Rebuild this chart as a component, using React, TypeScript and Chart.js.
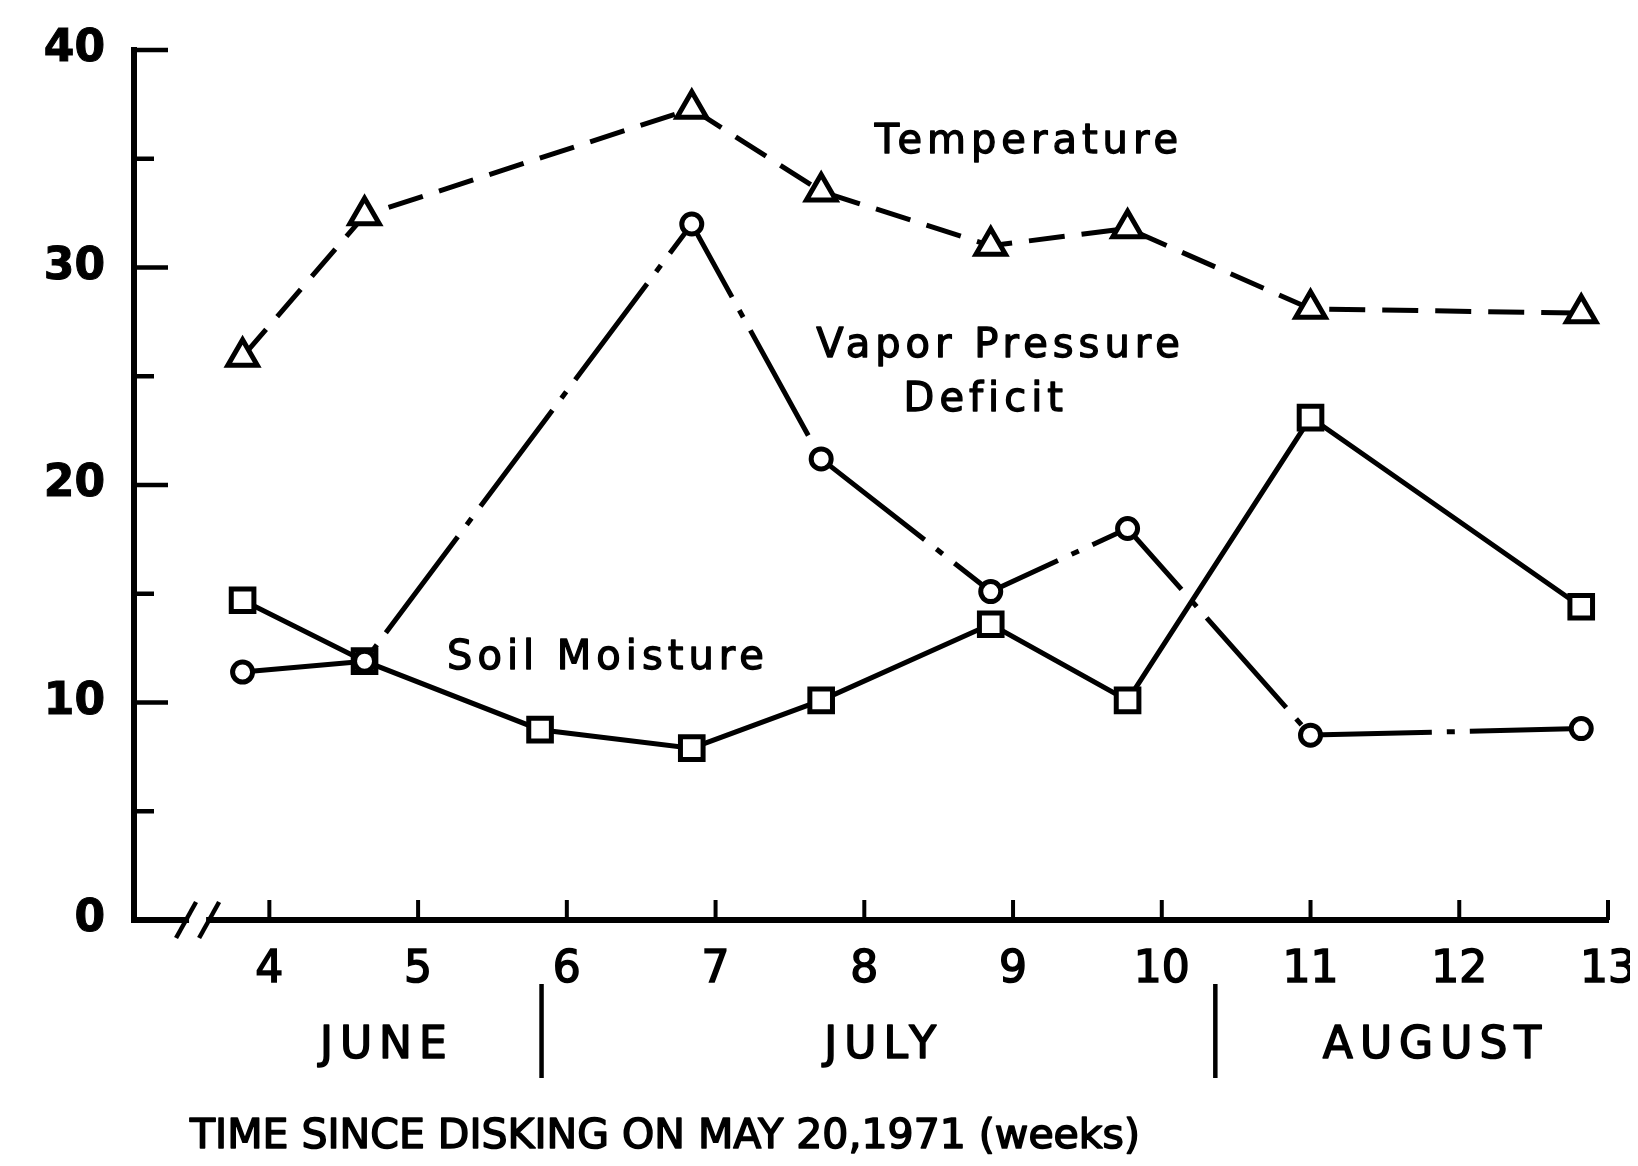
import React, { useEffect, useRef } from 'react';
import { Chart, registerables } from 'chart.js';

Chart.register(...registerables);

// ---- data (weeks since disking) ----
const weeks = [3.82, 4.64, 5.82, 6.84, 7.71, 8.85, 9.77, 11.0, 12.82];
const temperature = [25.9, 32.4, null, 37.3, 33.5, 31.0, 31.8, 28.1, 27.9];
const vaporPressureDeficit = [11.4, 11.9, null, 32.0, 21.2, 15.1, 18.0, 8.5, 8.8];
const soilMoisture = [14.7, 11.9, 8.75, 7.9, 10.1, 13.6, 10.1, 23.1, 14.4];

const xMin = 3.09;
const xMax = 13;
const xTickValues = [4, 5, 6, 7, 8, 9, 10, 11, 12, 13];
const yMin = 0;
const yMax = 40;
const yStep = 5;
const yLabelEvery = 10;

const monthNames = ['JUNE', 'JULY', 'AUGUST'];
const monthCenters = [4.77, 8.11, 11.82];
const monthDividers = [5.83, 10.36];
const axisBreak = [3.44, 3.595];

const seriesLabelText = ['Temperature', 'Vapor Pressure', 'Deficit', 'Soil Moisture'];
const seriesLabelX = [9.09, 8.9, 8.8, 6.26];
const seriesLabelY = [35.72, 26.35, 23.87, 12.0];

const axisTitle = 'TIME SINCE DISKING ON MAY 20,1971 (weeks)';
const axisTitleCenter = 6.66;

const FONT = '"DejaVu Sans", "Noto Sans", sans-serif';

function toPoints(vals: (number | null)[]) {
  const pts: { x: number; y: number }[] = [];
  weeks.forEach((w, i) => {
    const v = vals[i];
    if (v !== null && v !== undefined) pts.push({ x: w, y: v });
  });
  return pts;
}

function heavyText(ctx: CanvasRenderingContext2D, txt: string, x: number, y: number, sw: number) {
  ctx.lineWidth = sw;
  ctx.lineJoin = 'round';
  ctx.strokeText(txt, x, y);
  ctx.fillText(txt, x, y);
}

const decorPlugin = {
  id: 'decor',
  afterDraw(chart: any) {
    const { ctx, chartArea, scales } = chart;
    const xs = scales.x;
    const ys = scales.y;
    const left = chartArea.left;
    const bottom = chartArea.bottom;
    ctx.save();
    ctx.strokeStyle = '#000';
    ctx.fillStyle = '#000';
    ctx.lineCap = 'butt';

    // inward y ticks
    ctx.lineWidth = 4.5;
    ys.ticks.forEach((t: any) => {
      if (t.value === yMin) return;
      const py = ys.getPixelForValue(t.value);
      const len = t.value % yLabelEvery === 0 ? 34 : 20;
      ctx.beginPath();
      ctx.moveTo(left - 2, py);
      ctx.lineTo(left + len, py);
      ctx.stroke();
    });

    // inward x ticks
    ctx.lineWidth = 4;
    xs.ticks.forEach((t: any) => {
      const px = xs.getPixelForValue(t.value);
      ctx.beginPath();
      ctx.moveTo(px, bottom);
      ctx.lineTo(px, bottom - 20);
      ctx.stroke();
    });

    // axis break //
    const b0 = xs.getPixelForValue(axisBreak[0]);
    const b1 = xs.getPixelForValue(axisBreak[1]);
    ctx.fillStyle = '#fff';
    ctx.fillRect(b0 + 3, bottom - 5, b1 - b0 - 6, 10);
    ctx.fillStyle = '#000';
    ctx.lineWidth = 4.5;
    [b0, b1].forEach((bx) => {
      ctx.beginPath();
      ctx.moveTo(bx - 10, bottom + 18);
      ctx.lineTo(bx + 10, bottom - 18);
      ctx.stroke();
    });

    // month dividers
    ctx.lineWidth = 4.5;
    monthDividers.forEach((m) => {
      const px = xs.getPixelForValue(m);
      ctx.beginPath();
      ctx.moveTo(px, bottom + 64);
      ctx.lineTo(px, bottom + 158);
      ctx.stroke();
    });

    // month names
    ctx.textAlign = 'center';
    ctx.textBaseline = 'middle';
    ctx.font = `44px ${FONT}`;
    (ctx as any).letterSpacing = '7px';
    monthNames.forEach((name, i) => {
      heavyText(ctx, name, xs.getPixelForValue(monthCenters[i]) + 3, bottom + 127, 1.6);
    });

    // axis title
    ctx.font = `41px ${FONT}`;
    (ctx as any).letterSpacing = '0px';
    heavyText(ctx, axisTitle, xs.getPixelForValue(axisTitleCenter), bottom + 217, 1.6);

    // series labels
    ctx.font = `40px ${FONT}`;
    (ctx as any).letterSpacing = '5px';
    seriesLabelText.forEach((txt, i) => {
      heavyText(
        ctx,
        txt,
        xs.getPixelForValue(seriesLabelX[i]) + 2.5,
        ys.getPixelForValue(seriesLabelY[i]),
        1.3
      );
    });

    ctx.restore();
  },
};

export default function App() {
  const canvasRef = useRef<HTMLCanvasElement | null>(null);

  useEffect(() => {
    if (!canvasRef.current) return;
    const chart = new Chart(canvasRef.current, {
      type: 'line',
      data: {
        datasets: [
          {
            label: 'Temperature',
            data: toPoints(temperature),
            borderColor: '#000',
            borderWidth: 5,
            borderDash: [36, 17],
            pointStyle: 'triangle',
            pointRadius: 17,
            pointBorderWidth: 5,
            pointBorderColor: '#000',
            pointBackgroundColor: '#fff',
            tension: 0,
            fill: false,
          },
          {
            label: 'Vapor Pressure Deficit',
            data: toPoints(vaporPressureDeficit),
            borderColor: '#000',
            borderWidth: 5,
            borderDash: [120, 15, 8, 15],
            pointStyle: 'circle',
            pointRadius: 10,
            pointBorderWidth: 5,
            pointBorderColor: '#000',
            pointBackgroundColor: '#fff',
            tension: 0,
            fill: false,
          },
          {
            label: 'Soil Moisture',
            data: toPoints(soilMoisture),
            borderColor: '#000',
            borderWidth: 5,
            pointStyle: 'rect',
            pointRadius: 16,
            pointBorderWidth: 5,
            pointBorderColor: '#000',
            pointBackgroundColor: '#fff',
            tension: 0,
            fill: false,
          },
        ],
      },
      options: {
        responsive: false,
        animation: false,
        events: [],
        layout: { padding: { top: 42, right: 18, left: 0, bottom: 0 } },
        plugins: {
          legend: { display: false },
          tooltip: { enabled: false },
        },
        scales: {
          x: {
            type: 'linear',
            min: xMin,
            max: xMax,
            grid: { display: false, drawTicks: false },
            border: { display: true, color: '#000', width: 6 },
            ticks: {
              autoSkip: false,
              maxRotation: 0,
              minRotation: 0,
              padding: 24,
              color: '#000',
              textStrokeColor: '#000',
              textStrokeWidth: 1.6,
              font: { family: FONT, size: 44 },
              callback: (v: any) => String(v),
            },
            afterBuildTicks: (s: any) => {
              s.ticks = xTickValues.map((v) => ({ value: v }));
            },
            afterFit: (s: any) => {
              s.height = 238;
              s.paddingLeft = 0;
              s.paddingRight = 0;
            },
          },
          y: {
            type: 'linear',
            min: yMin,
            max: yMax,
            grid: { display: false, drawTicks: false },
            border: { display: true, color: '#000', width: 6 },
            ticks: {
              stepSize: yStep,
              autoSkip: false,
              padding: 29,
              color: '#000',
              textStrokeColor: '#000',
              textStrokeWidth: 1,
              font: { family: FONT, size: 44, weight: 'bold' },
              callback: (v: any) => (Number(v) % yLabelEvery === 0 ? String(v) : ''),
            },
            afterFit: (s: any) => {
              s.width = 126;
              s.paddingTop = 0;
              s.paddingBottom = 0;
            },
          },
        },
      },
      plugins: [decorPlugin],
    } as any);
    return () => chart.destroy();
  }, []);

  return (
    <div style={{ width: 1622, height: 1150 }}>
      <canvas ref={canvasRef} width={1622} height={1150} style={{ display: 'block' }} />
    </div>
  );
}
